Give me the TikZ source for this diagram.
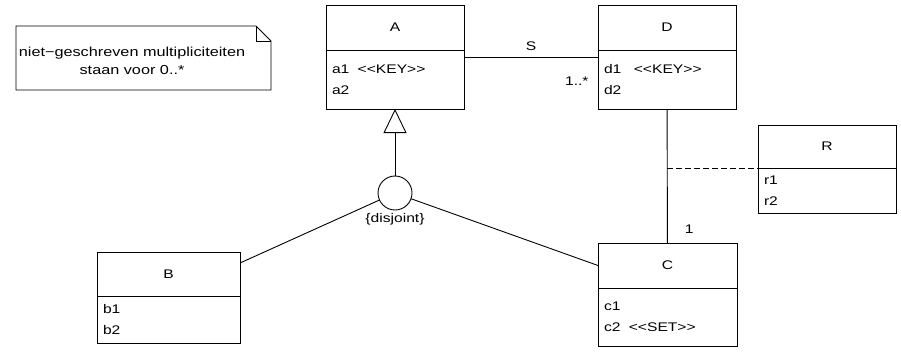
\documentclass[tikz,border=0pt]{standalone}
\usepackage{fontspec}
\setmainfont{Liberation Sans}[FakeStretch=1.25]
\usetikzlibrary{arrows.meta, positioning}
\tikzset{every picture/.style={line width=0.9pt}, % Thin lines like the drawing tool
  every node/.style={font=\fontsize{12.5}{21}\selectfont},
  classname/.style={ % Top part of a class box
    draw, outer sep=0pt,
    minimum width=138pt, minimum height=45pt},
  classattr/.style={ % Attribute part of a class box
    draw, outer sep=0pt,
    minimum width=138pt, minimum height=59pt,
    inner xsep=6pt, text width=126pt, align=left},
  gencircle/.style={ % Circle of the generalisation set
    draw, circle, outer sep=0pt, minimum size=34pt, inner sep=0pt},
  genarrow/.style={ % Open triangle pointing to the superclass
    -{Triangle[open, length=24pt, width=23pt]}}}

\begin{document}
\begin{tikzpicture}[x=1pt, y=-1pt]
  \useasboundingbox (0,0) rectangle (901,351);
  % note
  \node[align=center, font=\fontsize{13}{18}\selectfont] (note) at (132,61)
    {niet\textminus geschreven multipliciteiten\\staan voor 0..*};
  \draw (16,26) -- (256,26) -- (271,41) -- (271,90) -- (16,90) -- cycle;
  \draw (256,26) |- (271,41);
  % classes
  \node[classname] (A) at (395,27.5) {A};
  \node[classattr, below=0pt of A] (Aattr) {a1\ \ {<}{<}KEY{>}{>}\\a2};
  \node[classname] (D) at (667,27.5) {D};
  \node[classattr, below=0pt of D] (Dattr) {d1\ \ \ {<}{<}KEY{>}{>}\\d2};
  \node[classname, minimum height=43pt] (R) at (827,146.5) {R};
  \node[classattr, below=0pt of R, minimum height=45pt] (Rattr) {r1\\r2};
  \node[classname, minimum width=143pt, minimum height=44pt] (B) at (168.5,274) {B};
  \node[classattr, below=0pt of B, minimum width=143pt, text width=131pt,
    minimum height=47pt] (Battr) {b1\\b2};
  \node[classname, minimum width=139pt] (C) at (667.5,265.5) {C};
  \node[classattr, below=0pt of C, minimum width=139pt, text width=127pt,
    minimum height=58pt] (Cattr) {c1\\c2\ \ {<}{<}SET{>}{>}};
  % generalisation
  \node[gencircle, below=67pt of Aattr] (gen) {};
  \node[below=0pt of gen] (disj) {\{disjoint\}};
  \draw[genarrow] (gen) -- (Aattr);
  \draw (gen) -- ([yshift=11pt]B.east);
  \draw (gen) -- (C.west);
  % associations
  \draw ([yshift=-7pt]Aattr.north east) -- ([yshift=-7pt]Dattr.north west)
    node[midway, above=3pt] {S}
    node[at end, anchor=north east, inner sep=0pt, xshift=-9pt, yshift=-19pt] {1..*};
  \draw (Dattr) -- (C)
    node[at end, anchor=south west, inner sep=0pt, xshift=17pt, yshift=9pt] {1};
  \coordinate (link) at (Dattr.south |- Rattr.north west);
  \draw[dash pattern=on 6pt off 3pt] (link) -- (Rattr.north west);
\end{tikzpicture}
\end{document}
